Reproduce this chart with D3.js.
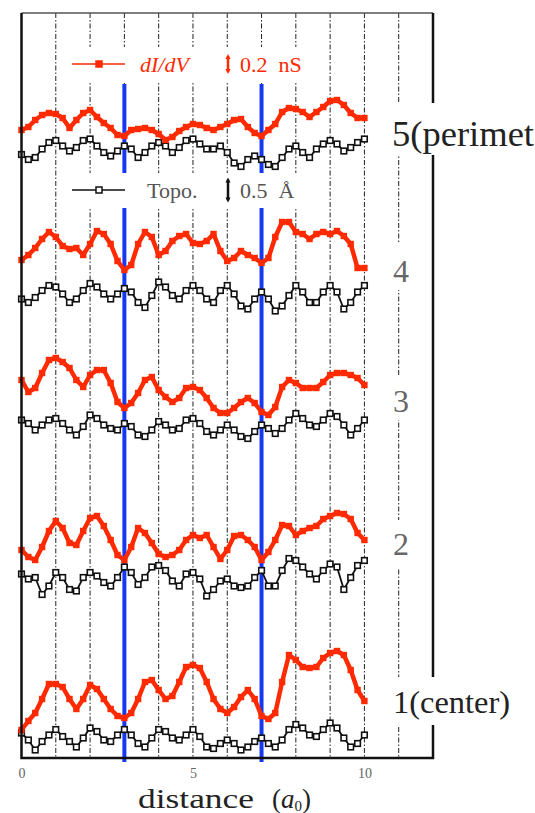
<!DOCTYPE html>
<html><head><meta charset="utf-8">
<script src="https://cdn.jsdelivr.net/npm/d3@7"></script>
<style>html,body{margin:0;padding:0;background:#fff}svg{display:block}</style>
</head><body><svg id="chart" width="535" height="813"></svg>
<script>
// Line profiles across the island: dI/dV (nS, stacked) and topography (Å, stacked)
const distance = d3.range(0, 10.001, 0.2).map(v => +v.toFixed(1));   // a0

const didv1 = [0.28,0.37,0.45,0.59,0.74,0.74,0.71,0.59,0.49,0.59,0.73,0.69,0.59,0.49,0.42,0.40,0.45,0.59,0.76,0.78,0.68,0.59,0.62,0.76,0.91,0.93,0.90,0.76,0.59,0.49,0.45,0.51,0.61,0.68,0.59,0.42,0.39,0.45,0.76,1.03,0.98,0.91,0.90,0.91,1.00,1.05,1.07,1.03,0.88,0.68,0.57];
const didv2 = [2.08,2.01,1.98,2.11,2.27,2.37,2.30,2.15,2.13,2.27,2.40,2.42,2.32,2.18,2.03,1.98,2.11,2.30,2.25,2.15,2.04,2.01,2.03,2.08,2.18,2.23,2.20,2.23,2.11,1.99,2.08,2.22,2.23,2.18,2.11,1.98,2.06,2.18,2.33,2.32,2.23,2.27,2.30,2.32,2.39,2.42,2.45,2.44,2.39,2.25,2.18];
const didv3 = [3.78,3.66,3.70,3.85,3.98,4.00,3.96,3.90,3.78,3.71,3.83,3.88,3.88,3.75,3.56,3.50,3.55,3.65,3.78,3.81,3.68,3.61,3.56,3.60,3.70,3.71,3.68,3.60,3.50,3.45,3.45,3.50,3.56,3.60,3.55,3.46,3.43,3.51,3.71,3.78,3.75,3.70,3.70,3.70,3.76,3.83,3.85,3.85,3.83,3.80,3.73];
const didv4 = [4.98,5.03,5.10,5.19,5.26,5.21,5.12,5.09,5.10,5.03,5.14,5.27,5.24,5.14,4.97,4.88,4.93,5.14,5.26,5.21,5.03,5.07,5.17,5.22,5.24,5.15,5.14,5.17,5.24,5.07,4.97,5.00,5.07,5.03,5.00,4.95,5.00,5.21,5.36,5.36,5.26,5.24,5.19,5.24,5.26,5.24,5.27,5.22,5.14,4.90,4.90];
const didv5 = [6.28,6.31,6.38,6.43,6.45,6.44,6.40,6.30,6.38,6.45,6.48,6.41,6.35,6.30,6.23,6.22,6.28,6.29,6.30,6.28,6.24,6.18,6.21,6.27,6.31,6.34,6.33,6.30,6.28,6.31,6.34,6.38,6.39,6.31,6.25,6.22,6.28,6.34,6.46,6.50,6.49,6.46,6.41,6.46,6.51,6.57,6.58,6.53,6.45,6.40,6.40];

const topo1 = [0.50,0.36,0.16,0.33,0.46,0.57,0.43,0.33,0.22,0.40,0.60,0.53,0.36,0.33,0.46,0.57,0.46,0.29,0.22,0.40,0.57,0.53,0.40,0.36,0.46,0.57,0.43,0.22,0.19,0.29,0.36,0.29,0.16,0.22,0.33,0.40,0.29,0.22,0.36,0.57,0.67,0.60,0.46,0.43,0.57,0.70,0.60,0.40,0.22,0.29,0.46];
const topo2 = [3.68,3.58,3.61,3.27,3.44,3.71,3.61,3.37,3.34,3.61,3.71,3.64,3.51,3.44,3.61,3.82,3.71,3.47,3.61,3.82,3.85,3.75,3.54,3.44,3.68,3.71,3.58,3.24,3.37,3.54,3.58,3.44,3.41,3.44,3.61,3.75,3.44,3.44,3.75,3.99,3.95,3.82,3.68,3.58,3.75,3.88,3.82,3.37,3.61,3.85,3.95];
const topo3 = [6.76,6.69,6.56,6.66,6.76,6.79,6.69,6.56,6.46,6.63,6.86,6.79,6.66,6.59,6.56,6.69,6.63,6.46,6.43,6.56,6.73,6.66,6.56,6.59,6.76,6.79,6.69,6.53,6.46,6.56,6.66,6.56,6.43,6.39,6.53,6.66,6.59,6.49,6.59,6.76,6.89,6.79,6.66,6.63,6.76,6.89,6.83,6.66,6.46,6.59,6.76];
const topo4 = [9.18,9.11,9.21,9.35,9.45,9.42,9.28,9.11,9.18,9.35,9.49,9.42,9.28,9.18,9.28,9.39,9.32,9.11,9.01,9.25,9.52,9.42,9.25,9.18,9.35,9.45,9.35,9.18,9.11,9.35,9.45,9.28,9.04,8.98,9.18,9.32,9.18,8.94,9.04,9.25,9.45,9.32,9.11,9.11,9.32,9.45,9.32,8.98,9.11,9.32,9.45];
const topo5 = [12.07,11.97,12.01,12.18,12.31,12.35,12.24,12.14,12.21,12.35,12.38,12.24,12.11,12.04,12.14,12.24,12.18,12.01,12.11,12.24,12.31,12.24,12.11,12.21,12.35,12.38,12.28,12.18,12.18,12.24,12.11,11.90,11.83,11.97,12.04,11.97,11.87,11.83,12.01,12.18,12.24,12.11,12.01,12.18,12.28,12.35,12.28,12.14,12.21,12.31,12.38];

const profileNames = ["1(center)", "2", "3", "4", "5(perimet"];
const xTickValues = [0, 5, 10];
const gridValues = [1, 2, 3, 4, 5, 6, 7, 8, 9, 10, 11];
const siteLines = [3, 7];
const didvBar = 0.2;   // nS
const topoBar = 0.5;   // Å

const didvSets = [didv1, didv2, didv3, didv4, didv5];
const topoSets = [topo1, topo2, topo3, topo4, topo5];

// ---------------------------------------------------------------
const RED = "#ff2a00", BLUE = "#1638f0";
const SERIF = "Liberation Serif, DejaVu Serif, Times New Roman, serif";
const frame = {left: 21.5, right: 433, top: 13, bottom: 758};
const svg = d3.select("#chart");

const x = d3.scaleLinear().domain([0, 12]).range([frame.left, frame.right]);
const yDidv = d3.scaleLinear().domain([0, 7.45]).range([frame.bottom, frame.top]);
const yTopo = d3.scaleLinear().domain([0, 14.9]).range([frame.bottom, frame.top]);

// dash-dot grid at every a0
svg.append("g").selectAll("line").data(gridValues).join("line")
  .attr("x1", d => x(d)).attr("x2", d => x(d))
  .attr("y1", frame.top).attr("y2", frame.bottom)
  .attr("stroke", "#222").attr("stroke-width", 1)
  .attr("stroke-dasharray", "5,2,1.5,2");

// blue site markers
svg.append("g").selectAll("line").data(siteLines).join("line")
  .attr("x1", d => x(d)).attr("x2", d => x(d))
  .attr("y1", 84).attr("y2", 762)
  .attr("stroke", BLUE).attr("stroke-width", 4);

// legend panels
const legendRows = [
  {y: 64, box: [65, 47, 257, 35], color: RED, text: "dI/dV", italic: true, bar: yDidv(0) - yDidv(didvBar), barText: "0.2  nS", filled: true},
  {y: 190, box: [65, 173, 257, 35], color: "#111", text: "Topo.", italic: false, bar: yTopo(0) - yTopo(topoBar), barText: "0.5  Å", filled: false}
];
legendRows.forEach(r => {
  const g = svg.append("g");
  g.append("rect").attr("x", r.box[0]).attr("y", r.box[1]).attr("width", r.box[2]).attr("height", r.box[3]).attr("fill", "#fff");
  g.append("line").attr("x1", 72).attr("x2", 125).attr("y1", r.y).attr("y2", r.y)
    .attr("stroke", r.color).attr("stroke-width", 1.6);
  g.append("rect").attr("x", 96).attr("y", r.y - 3).attr("width", 6).attr("height", 6)
    .attr("fill", r.filled ? r.color : "#fff").attr("stroke", r.color).attr("stroke-width", 1.5);
  g.append("text").attr("x", r.italic ? 140 : 147).attr("y", r.y + 8)
    .attr("font-family", SERIF).attr("font-size", 22)
    .attr("font-style", r.italic ? "italic" : "normal")
    .attr("fill", r.italic ? r.color : "#555").text(r.text);
  const bx = 228, y0 = r.y - r.bar / 2, y1 = r.y + r.bar / 2;
  g.append("line").attr("x1", bx).attr("x2", bx).attr("y1", y0 + 2).attr("y2", y1 - 2)
    .attr("stroke", r.color).attr("stroke-width", 2.5);
  g.append("path").attr("d", `M${bx - 2.5},${y0 + 5}L${bx},${y0}L${bx + 2.5},${y0 + 5}Z M${bx - 2.5},${y1 - 5}L${bx},${y1}L${bx + 2.5},${y1 - 5}Z`)
    .attr("fill", r.color);
  g.append("text").attr("x", 240).attr("y", r.y + 8)
    .attr("font-family", SERIF).attr("font-size", 22)
    .attr("fill", r.italic ? r.color : "#555").attr("xml:space", "preserve").text(r.barText);
});

// traces
const lineDidv = d3.line().x((d, i) => x(distance[i])).y(d => yDidv(d));
const lineTopo = d3.line().x((d, i) => x(distance[i])).y(d => yTopo(d));
const traces = svg.append("g");
topoSets.forEach(vals => {
  traces.append("path").attr("d", lineTopo(vals)).attr("fill", "none")
    .attr("stroke", "#111").attr("stroke-width", 1.8);
  traces.append("g").selectAll("rect").data(vals).join("rect")
    .attr("x", (d, i) => x(distance[i]) - 2.8).attr("y", d => yTopo(d) - 2.8)
    .attr("width", 5.6).attr("height", 5.6)
    .attr("fill", "#fff").attr("stroke", "#111").attr("stroke-width", 1.6);
});
didvSets.forEach(vals => {
  traces.append("path").attr("d", lineDidv(vals)).attr("fill", "none")
    .attr("stroke", RED).attr("stroke-width", 4.5).attr("stroke-linejoin", "round");
  traces.append("g").selectAll("rect").data(vals).join("rect")
    .attr("x", (d, i) => x(distance[i]) - 3.2).attr("y", d => yDidv(d) - 3.2)
    .attr("width", 6.4).attr("height", 6.4).attr("fill", RED);
});

// frame
svg.append("line").attr("x1", frame.left).attr("x2", frame.right).attr("y1", frame.top).attr("y2", frame.top)
  .attr("stroke", "#555").attr("stroke-width", 1.5);
svg.append("path")
  .attr("d", `M${frame.left},${frame.top}V${frame.bottom}H${frame.right}V${frame.top}`)
  .attr("fill", "none").attr("stroke", "#111").attr("stroke-width", 2.5);

// profile labels
const labelLayout = [
  {x: 393, y: 713, size: 31, len: 117, box: [384, 677, 151, 48], color: "#222"},
  {x: 393, y: 555, size: 32, len: null, box: [386, 520, 26, 48], color: "#666"},
  {x: 393, y: 412, size: 32, len: null, box: [386, 377, 26, 43], color: "#666"},
  {x: 393, y: 282, size: 32, len: null, box: [386, 244, 26, 46], color: "#666"},
  {x: 392, y: 146, size: 36, len: 142, box: [385, 103, 150, 52], color: "#222"}
];
profileNames.forEach((name, i) => {
  const L = labelLayout[i];
  svg.append("rect").attr("x", L.box[0]).attr("y", L.box[1]).attr("width", L.box[2]).attr("height", L.box[3]).attr("fill", "#fff");
  const t = svg.append("text").attr("x", L.x).attr("y", L.y)
    .attr("font-family", SERIF).attr("font-size", L.size).attr("fill", L.color).text(name);
  if (L.len) t.attr("textLength", L.len).attr("lengthAdjust", "spacingAndGlyphs");
});

// x axis tick labels
const xAxis = d3.axisBottom(x).tickValues(xTickValues).tickSize(0).tickPadding(10).tickFormat(d3.format("d"));
const ax = svg.append("g").attr("transform", `translate(0,${frame.bottom})`).call(xAxis);
ax.select(".domain").remove();
ax.selectAll("text").attr("font-family", SERIF).attr("font-size", 14).attr("fill", "#666");

// x axis title
const title = svg.append("text").attr("y", 808).attr("font-family", SERIF).attr("font-size", 27).attr("fill", "#222");
title.append("tspan").attr("x", 138).attr("textLength", 116).attr("lengthAdjust", "spacingAndGlyphs").text("distance");
title.append("tspan").attr("x", 272).text("(");
title.append("tspan").attr("font-style", "italic").text("a");
title.append("tspan").attr("font-size", 15).attr("dy", 3).text("0");
title.append("tspan").attr("dy", -3).text(")");
</script></body></html>
